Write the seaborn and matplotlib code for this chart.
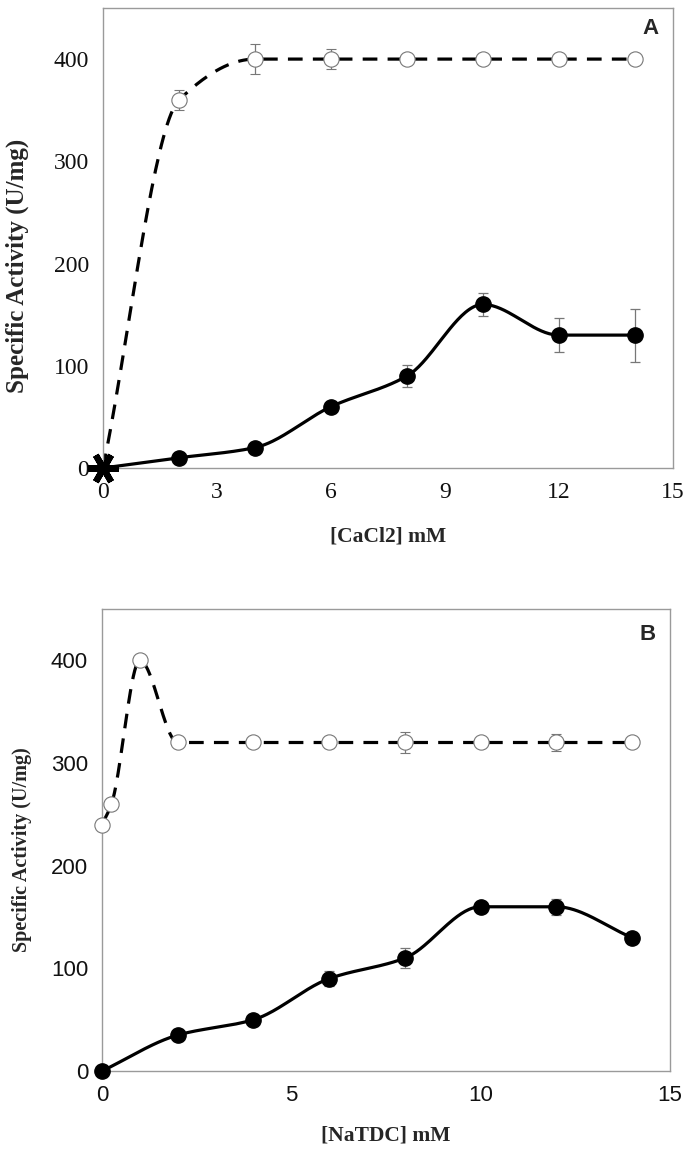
import numpy as np
import pandas as pd
import matplotlib
matplotlib.use("Agg")
import matplotlib.pyplot as plt
import seaborn as sns

# -----------------------------------
# DATA
# -----------------------------------

# Panel A: CaCl2
ca_x = [0, 2, 4, 6, 8, 10, 12, 14]
ca_open = [0, 360, 400, 400, 400, 400, 400, 400]
ca_open_err = [0, 10, 15, 10, 0, 0, 0, 0]
ca_filled = [0, 10, 20, 60, 90, 160, 130, 130]
ca_filled_err = [0, 0, 0, 0, 11, 11, 17, 26]

# Panel B: NaTDC
na_open_x = [0, 0.25, 1, 2, 4, 6, 8, 10, 12, 14]
na_open = [240, 260, 400, 320, 320, 320, 320, 320, 320, 320]
na_open_err = [0, 0, 0, 0, 3, 5, 10, 0, 8, 0]
na_filled_x = [0, 2, 4, 6, 8, 10, 12, 14]
na_filled = [0, 35, 50, 90, 110, 160, 160, 130]
na_filled_err = [0, 0, 0, 7, 10, 0, 8, 0]

SERIF = "Liberation Serif"
SANS = "Liberation Sans"
GREY = "#9a9a9a"


def smooth(x, y, n=40):
    # monotone cubic (Fritsch-Carlson) curve through the points, for the
    # smoothed connecting lines
    x = np.asarray(x, float)
    y = np.asarray(y, float)
    h = np.diff(x)
    d = np.diff(y) / h
    m = np.zeros_like(y)
    m[0], m[-1] = d[0], d[-1]
    for i in range(1, len(y) - 1):
        if d[i - 1] * d[i] <= 0:
            m[i] = 0
        else:
            w1 = 2 * h[i] + h[i - 1]
            w2 = h[i] + 2 * h[i - 1]
            m[i] = (w1 + w2) / (w1 / d[i - 1] + w2 / d[i])
    xs, ys = [], []
    for i in range(len(x) - 1):
        t = np.linspace(0, 1, n)
        h00 = 2 * t ** 3 - 3 * t ** 2 + 1
        h10 = t ** 3 - 2 * t ** 2 + t
        h01 = -2 * t ** 3 + 3 * t ** 2
        h11 = t ** 3 - t ** 2
        xs.append(x[i] + t * h[i])
        ys.append(h00 * y[i] + h10 * h[i] * m[i] + h01 * y[i + 1]
                  + h11 * h[i] * m[i + 1])
    return pd.DataFrame({"x": np.concatenate(xs), "y": np.concatenate(ys)})


def style_axes(ax, tick_font, size):
    for s in ax.spines.values():
        s.set_color(GREY)
        s.set_linewidth(1.0)
    ax.tick_params(axis="x", direction="in", length=8, color=GREY, width=1,
                   pad=10)
    ax.tick_params(axis="y", direction="in", length=8, color=GREY, width=1,
                   pad=10)
    for lab in ax.get_xticklabels() + ax.get_yticklabels():
        lab.set_fontfamily(tick_font)
        lab.set_fontsize(size)
        lab.set_color("#111111")


def draw_points(ax, x, y, err, filled):
    if filled:
        ax.errorbar(x, y, yerr=err, fmt="o", ms=11, mfc="black",
                    mec="black", ecolor="#777777", elinewidth=0.9,
                    capsize=3.5, capthick=0.9, zorder=4)
    else:
        ax.errorbar(x, y, yerr=err, fmt="o", ms=11, mfc="white",
                    mec="#777777", mew=0.8, ecolor="#777777",
                    elinewidth=0.9, capsize=3.5, capthick=0.9, zorder=4)


sns.set_style("white")

fig = plt.figure(figsize=(6.85, 11.55), dpi=100)
axA = fig.add_axes([0.1504, 0.5948, 0.832, 0.3983])
axB = fig.add_axes([0.1489, 0.0727, 0.829, 0.400])

# ---------------------------------------------------------
# Panel A
# ---------------------------------------------------------
sns.lineplot(data=smooth(ca_x, ca_open), x="x", y="y", sort=False,
             color="black", linewidth=2.3, ax=axA, zorder=2)
axA.lines[-1].set_dashes([4.6, 3.2])
sns.lineplot(data=smooth(ca_x, ca_filled), x="x", y="y", sort=False,
             color="black", linewidth=2.3, ax=axA, zorder=2)

draw_points(axA, ca_x[1:], ca_open[1:], ca_open_err[1:], filled=False)
draw_points(axA, ca_x[1:], ca_filled[1:], ca_filled_err[1:], filled=True)
axA.plot(ca_x[:1], ca_filled[:1], marker=(6, 2, 90), ms=22, mew=4.5,
         color="black", clip_on=False, zorder=5)

axA.set_xlim(0, 15)
axA.set_ylim(0, 450)
axA.set_xticks([0, 3, 6, 9, 12, 15])
axA.set_yticks([0, 100, 200, 300, 400])
axA.set_xlabel("[CaCl2] mM", fontfamily=SERIF, fontweight="bold",
               fontsize=15.5, labelpad=17)
axA.set_ylabel("Specific Activity (U/mg)", fontfamily=SERIF,
               fontweight="bold", fontsize=18)
axA.yaxis.set_label_coords(-0.13, 0.44)
axA.text(0.975, 0.955, "A", transform=axA.transAxes, ha="right", va="center",
         fontfamily=SANS, fontweight="bold", fontsize=16)
style_axes(axA, SERIF, 17)

# ---------------------------------------------------------
# Panel B
# ---------------------------------------------------------
sns.lineplot(data=smooth(na_open_x, na_open), x="x", y="y", sort=False,
             color="black", linewidth=2.3, ax=axB, zorder=2)
axB.lines[-1].set_dashes([4.6, 3.2])
sns.lineplot(data=smooth(na_filled_x, na_filled), x="x", y="y", sort=False,
             color="black", linewidth=2.3, ax=axB, zorder=2)

draw_points(axB, na_open_x, na_open, na_open_err, filled=False)
draw_points(axB, na_filled_x, na_filled, na_filled_err, filled=True)
for c in axB.collections + axB.lines:
    c.set_clip_on(False)

axB.set_xlim(0, 15)
axB.set_ylim(0, 450)
axB.set_xticks([0, 5, 10, 15])
axB.set_yticks([0, 100, 200, 300, 400])
axB.set_xlabel("[NaTDC] mM", fontfamily=SERIF, fontweight="bold",
               fontsize=15.5, labelpad=14)
axB.set_ylabel("Specific Activity (U/mg)", fontfamily=SERIF,
               fontweight="bold", fontsize=14.5)
axB.yaxis.set_label_coords(-0.123, 0.48)
axB.text(0.975, 0.945, "B", transform=axB.transAxes, ha="right", va="center",
         fontfamily=SANS, fontweight="bold", fontsize=16)
style_axes(axB, SANS, 16)

fig.savefig("out.png", dpi=100)
